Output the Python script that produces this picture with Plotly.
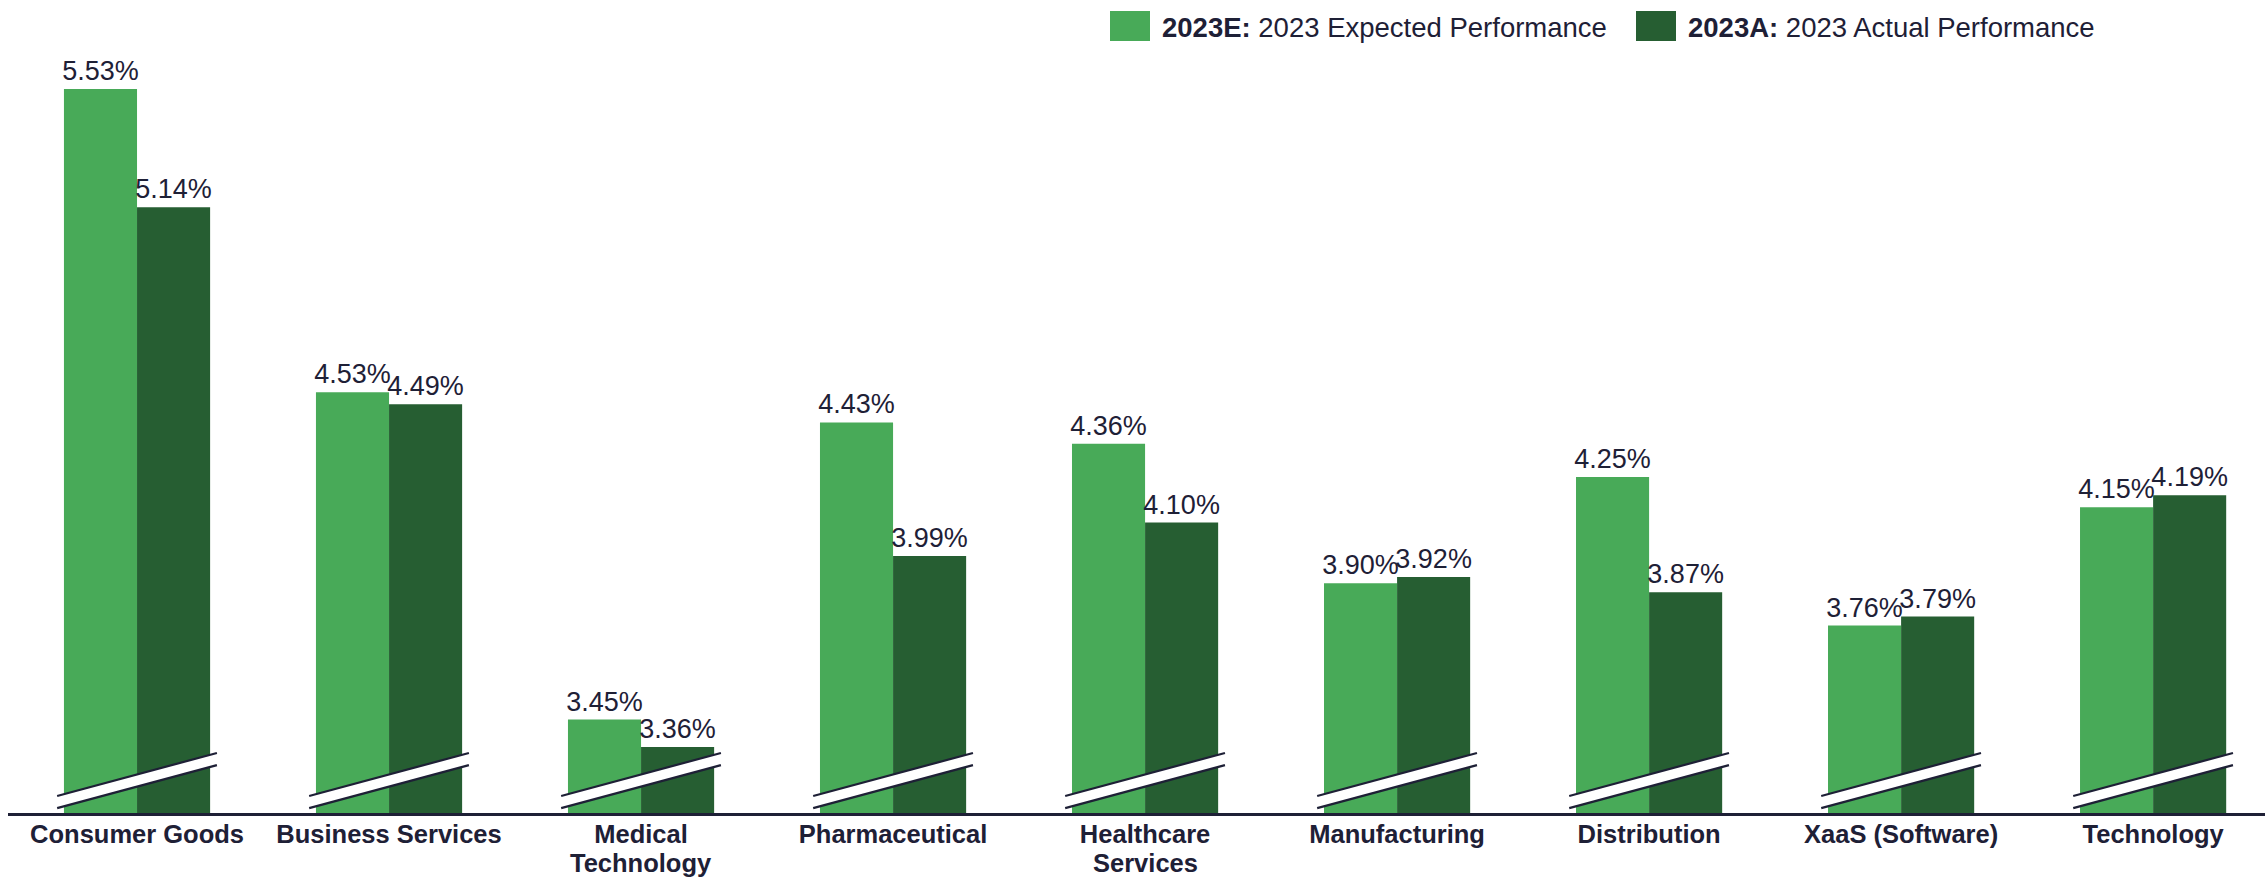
import plotly.graph_objects as go

# ---- data -------------------------------------------------------------
categories = [
    "Consumer Goods", "Business Services", "Medical<br>Technology",
    "Pharmaceutical", "Healthcare<br>Services", "Manufacturing",
    "Distribution", "XaaS (Software)", "Technology",
]
expected_2023 = [5.53, 4.53, 3.45, 4.43, 4.36, 3.90, 4.25, 3.76, 4.15]
actual_2023 = [5.14, 4.49, 3.36, 3.99, 4.10, 3.92, 3.87, 3.79, 4.19]

legend_labels = [
    ("<b>2023E:</b> 2023 Expected Performance", "#48AA58"),
    ("<b>2023A:</b> 2023 Actual Performance", "#265E32"),
]

# ---- style ------------------------------------------------------------
W, H = 2265, 878
M_L, M_R, M_T, M_B = 8, 0, 20, 65
TEXT = "#1E2036"
FONT = "Liberation Sans, Arial, sans-serif"
Y_MIN = 3.142          # truncated axis floor (broken bars)
PX_PER_UNIT = 303.2
plot_h = H - M_T - M_B
plot_w = W - M_L - M_R
Y_MAX = Y_MIN + plot_h / PX_PER_UNIT
X_RANGE = [-0.512, 8.444]
TICK_SIZE = 25.5

x_idx = list(range(len(categories)))

fig = go.Figure()
for name, vals, color in [
    ("2023E", expected_2023, legend_labels[0][1]),
    ("2023A", actual_2023, legend_labels[1][1]),
]:
    fig.add_trace(go.Bar(
        x=x_idx, y=vals, name=name,
        marker=dict(color=color, line=dict(width=0)),
        texttemplate="%{y:.2f}%", textposition="outside",
        textfont=dict(size=27, color=TEXT, family=FONT),
        constraintext="none", cliponaxis=False, showlegend=False,
    ))

# ---- axis-break marks across each bar pair ----------------------------
half = 0.317
up_l, up_r = Y_MIN + 0.056, Y_MIN + 0.198
lo_l, lo_r = Y_MIN + 0.016, Y_MIN + 0.158
shapes = []
for i in x_idx:
    x0, x1 = i - half, i + half
    shapes.append(dict(
        type="path", xref="x", yref="y", layer="above",
        path=f"M{x0},{up_l} L{x1},{up_r} L{x1},{lo_r} L{x0},{lo_l} Z",
        fillcolor="white", line=dict(width=0),
    ))
    for yl, yr in [(up_l, up_r), (lo_l, lo_r)]:
        shapes.append(dict(
            type="line", xref="x", yref="y", layer="above",
            x0=x0, y0=yl, x1=x1, y1=yr,
            line=dict(color=TEXT, width=2.2),
        ))

# ---- custom legend (large swatches) -----------------------------------
def px_x(x):
    return (x - M_L) / plot_w

def px_y(y):
    return (H - M_B - y) / plot_h

annotations = []
for (label, color), sx in zip(legend_labels, [1110, 1636]):
    shapes.append(dict(
        type="rect", xref="paper", yref="paper",
        x0=px_x(sx), x1=px_x(sx + 40), y0=px_y(41), y1=px_y(11),
        fillcolor=color, line=dict(width=0),
    ))
    annotations.append(dict(
        xref="paper", yref="paper", x=px_x(sx + 50), y=px_y(27),
        xanchor="left", yanchor="middle", showarrow=False,
        text=label, font=dict(size=27.5, color=TEXT, family=FONT),
    ))

# ---- category labels: first line as tick text, wrapped line set tighter
first_lines = [c.split("<br>")[0] for c in categories]
for i, c in enumerate(categories):
    parts = c.split("<br>")
    if len(parts) > 1:
        annotations.append(dict(
            xref="x", yref="paper", x=i, y=px_y(863.5),
            xanchor="center", yanchor="middle", showarrow=False,
            text=f"<b>{parts[1]}</b>", borderpad=0,
            font=dict(size=TICK_SIZE, color=TEXT, family=FONT),
        ))

fig.update_layout(
    width=W, height=H,
    margin=dict(l=M_L, r=M_R, t=M_T, b=M_B, pad=0, autoexpand=False),
    paper_bgcolor="white", plot_bgcolor="white",
    barmode="group", bargap=0.42, bargroupgap=0,
    shapes=shapes, annotations=annotations,
    font=dict(family=FONT, color=TEXT),
    xaxis=dict(
        tickmode="array", tickvals=x_idx,
        ticktext=[f"<b>{c}</b>" for c in first_lines],
        tickfont=dict(size=TICK_SIZE, color=TEXT, family=FONT),
        range=X_RANGE, showline=True, linecolor=TEXT, linewidth=2.5,
        showgrid=False, zeroline=False, ticks="",
        ticklabelstandoff=-3, automargin=False,
    ),
    yaxis=dict(
        range=[Y_MIN, Y_MAX], visible=False,
        showgrid=False, zeroline=False, automargin=False,
    ),
)

fig.write_html("out.html")
